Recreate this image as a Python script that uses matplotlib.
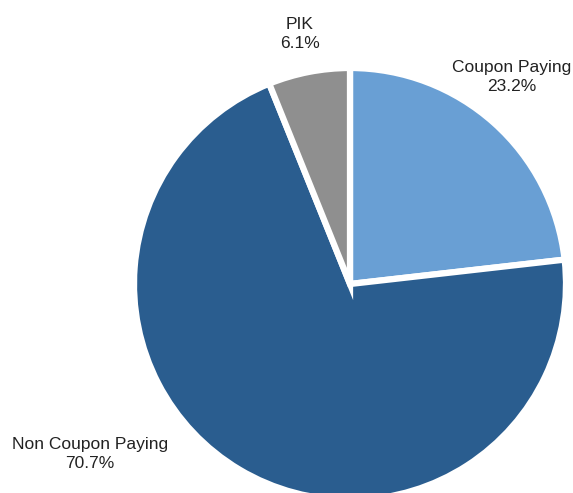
import matplotlib.pyplot as plt

# Data
labels = ["Coupon Paying", "Non Coupon Paying", "PIK"]
shares = [23.2, 70.7, 6.1]
colors = ["#699fd4", "#2a5d8f", "#8f8f8f"]

# Figure in pixel-like coordinates
fig = plt.figure(figsize=(5.73, 4.93), dpi=100)
ax = fig.add_axes([0, 0, 1, 1])
ax.set_xlim(0, 573)
ax.set_ylim(0, 493)
ax.set_aspect("equal")
ax.axis("off")

ax.pie(shares, colors=colors, startangle=90, counterclock=False,
       center=(350, 209), radius=216, explode=[0.02, 0, 0.005],
       wedgeprops=dict(edgecolor="white", linewidth=4.5))
ax.set_xlim(0, 573)
ax.set_ylim(0, 493)

# Labels
font = dict(family=["Liberation Sans Narrow", "Liberation Sans"], fontsize=12.5,
            color="#222222", ha="center", va="center", linespacing=1.35)
label_pos = [(512, 416), (90, 39), (300, 459)]
for name, val, (x, y) in zip(labels, shares, label_pos):
    ax.text(x, y, f"{name}\n{val:.1f}%", **font)

fig.savefig("out.png", dpi=100)
